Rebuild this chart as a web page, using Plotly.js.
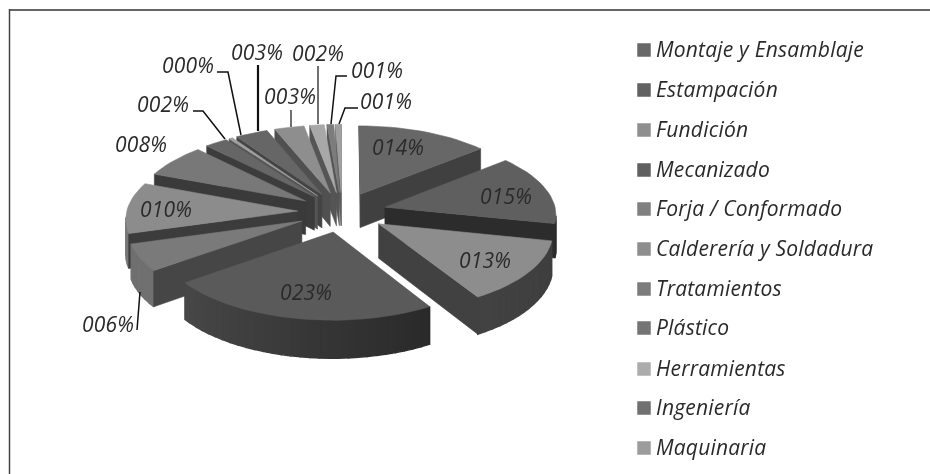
<!DOCTYPE html>
<html><head><meta charset="utf-8">
<script src="https://cdn.plot.ly/plotly-3.0.1.min.js"></script>
<style>html,body{margin:0;padding:0;background:#fff}#c{width:930px;height:474px;filter:blur(0.45px)}.textpoint text{letter-spacing:.2px}</style>
</head><body><div id="c"></div>
<script>
// Data
const legendCategories = ['Montaje y Ensamblaje','Estampación','Fundición','Mecanizado','Forja / Conformado','Calderería y Soldadura','Tratamientos','Plástico','Herramientas','Ingeniería','Maquinaria'];
const sliceValues = [13.8,14.6,13.0,23.4,5.6,10.6,6.9,2.4,0.4,3.4,3.1,1.5,0.7,0.6];
const percentLabels = ['014%','015%','013%','023%','006%','010%','008%','002%','000%','003%','003%','002%','001%','001%'];
// Styles
const legendColors = ['#686868','#626262','#8f8f8f','#606060','#808080','#8e8e8e','#7c7c7c','#747474','#acacac','#707070','#9c9c9c'];
const topColors  = ['#676767','#5f5f5f','#8d8d8d','#5a5a5a','#7a7a7a','#8c8c8c','#787878','#666666','#a0a0a0','#666666','#8e8e8e','#a8a8a8','#7c7c7c','#a0a0a0'];
const wallColors = ['#404040','#2c2c2c','#414141','#3a3a3a','#464646','#3c3c3c','#3a3a3a','#3c3c3c','#555555','#444444','#505050','#555555','#555555','#606060'];
const rimStart   = [64,48,62,42,112,120,110,90,120,90,120,130,100,120];
const rimEnd     = [48,42,66,72,112,120,110,90,120,90,120,130,100,120];
const labelX = [398,506,485,306,108,166,141,163,188,257,290,318,377,386];
const labelY = [150,199,263,295,327,212,147,107,68,55,99,56,73,104];
const leaderLines = [
 [[137,330],[140,292]],
 [[193,111],[203,111],[225,139]],
 [[217,72],[228,72],[241,135]],
 [[258,65],[258,131]],
 [[291,110],[291,127]],
 [[318,66],[318,124]],
 [[347,76],[336,76],[331,124]],
 [[358,108],[345,108],[339,124]]
];
const leaderWidth = [1.5,1.5,1.5,2.2,1.2,1.2,1.5,1.5];
const legendRows = [50,90,130,170,209,249,289,328,369,408,448];
const LEGEND_TEXT_DROP = 1.5;
const FONT = '"Open Sans", Lato, sans-serif';

// Projection of the 3D pie
const CX=342, CY=212, RX=171, RY=77, K=0.085, EXPLODE=0.26, H=34, STEP=3;
function proj(u,v,low){const s=1/(1+K*v);return [CX+RX*u*s, CY-RY*v*s+(low?H*s:0)];}
function area(p){let a=0;for(let i=0;i<p.length;i++){const q=p[(i+1)%p.length];a+=p[i][0]*q[1]-q[0]*p[i][1];}return a/2;}
function grey(n){const h=Math.round(n).toString(16).padStart(2,'0');return '#'+h+h+h;}
function poly(pts,color,w){
  return {type:'scatter',mode:'lines',x:pts.concat([pts[0]]).map(p=>p[0]),y:pts.concat([pts[0]]).map(p=>p[1]),
    fill:'toself',fillcolor:color,line:{color:color,width:w||0.6},hoverinfo:'skip',showlegend:false};
}
const total=sliceValues.reduce((a,b)=>a+b,0);
let acc=0;
const slices=sliceValues.map((val,i)=>{
  const a0=acc/total*2*Math.PI; acc+=val; const a1=acc/total*2*Math.PI; const m=(a0+a1)/2;
  return {i,a0,a1,m,ex:EXPLODE*Math.sin(m),ey:EXPLODE*Math.cos(m),depth:Math.cos(m)};
});
const order=slices.slice().sort((p,q)=>q.depth-p.depth);
const traces=[];
order.forEach(sl=>{
  const n=Math.max(1,Math.ceil((sl.a1-sl.a0)/(STEP*Math.PI/180)));
  const rim=[];
  for(let j=0;j<=n;j++){const a=sl.a0+(sl.a1-sl.a0)*j/n;rim.push([sl.ex+Math.sin(a),sl.ey+Math.cos(a)]);}
  const apex=[sl.ex,sl.ey];
  const top=[apex].concat(rim).map(p=>proj(p[0],p[1],false));
  const sign=Math.sign(area(top));
  const wall=(p,q,color,w)=>{
    const quad=[proj(p[0],p[1],false),proj(q[0],q[1],false),proj(q[0],q[1],true),proj(p[0],p[1],true)];
    if(Math.sign(area(quad))!==sign) traces.push(poly(quad,color,w));
  };
  for(let j=0;j<n;j++){
    const c=rimStart[sl.i]+(rimEnd[sl.i]-rimStart[sl.i])*j/n;
    wall(rim[j],rim[j+1],grey(c),1.4);
  }
  wall(apex,rim[0],wallColors[sl.i]);
  wall(rim[n],apex,wallColors[sl.i]);
  traces.push(poly(top,topColors[sl.i]));
});
// leader lines
leaderLines.forEach((l,i)=>traces.push({type:'scatter',mode:'lines',x:l.map(p=>p[0]),y:l.map(p=>p[1]),
  line:{color:'#111',width:leaderWidth[i]},hoverinfo:'skip',showlegend:false}));
// percentage labels
traces.push({type:'scatter',mode:'text',x:labelX,y:labelY,text:percentLabels,textposition:'middle center',
  textfont:{family:FONT,size:21,color:'#2a2a2a',style:'italic'},hoverinfo:'skip',showlegend:false});
// legend
traces.push({type:'scatter',mode:'markers',x:legendRows.map(()=>644),y:legendRows,
  marker:{symbol:'square',size:13.5,color:legendColors,line:{width:0}},hoverinfo:'skip',showlegend:false});
traces.push({type:'scatter',mode:'text',x:legendRows.map(()=>656),y:legendRows.map(r=>r+LEGEND_TEXT_DROP),text:legendCategories,textposition:'middle right',
  textfont:{family:FONT,size:21,color:'#2a2a2a',style:'italic'},hoverinfo:'skip',showlegend:false});

const hidden={visible:false,fixedrange:true};
Plotly.newPlot('c',traces,{
  width:930,height:474,margin:{l:0,r:0,t:0,b:0},showlegend:false,
  paper_bgcolor:'#fff',plot_bgcolor:'#fff',
  xaxis:Object.assign({range:[0,930]},hidden),
  yaxis:Object.assign({range:[474,0]},hidden),
  shapes:[
   {type:'line',xref:'x',yref:'y',x0:9,y0:10,x1:930,y1:10,line:{color:'#666',width:2}},
   {type:'line',xref:'x',yref:'y',x0:9.5,y0:9,x1:9.5,y1:474,line:{color:'#444',width:1.5}}
  ]
},{displayModeBar:false,staticPlot:true});
</script></body></html>
